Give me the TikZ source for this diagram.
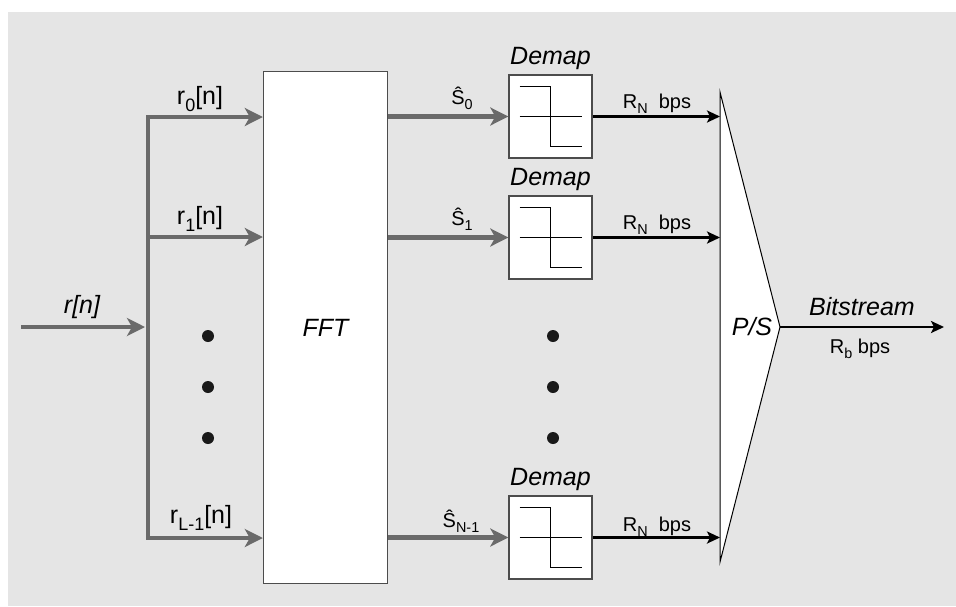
\documentclass[tikz,border=0pt]{standalone}
\usepackage{fontspec}
\setmainfont{Liberation Sans}
\usetikzlibrary{arrows.meta,positioning}
\definecolor{bggray}{HTML}{E5E5E5}
\definecolor{linegray}{HTML}{6A6A6A}
\newcommand{\lowsub}[1]{\raisebox{-0.5ex}{\scalebox{0.72}{#1}}}

\begin{document}
\begin{tikzpicture}[x=0.5pt,y=-0.5pt,
    font=\fontsize{12.5}{14}\selectfont,
    box/.style={draw=black!70,fill=white,line width=0.7pt,inner sep=0pt},
    graybus/.style={draw=linegray,line width=2.2pt},
    grayarrow/.style={graybus,-{Stealth[length=9pt,width=9pt,inset=2.5pt]}},
    blackarrow/.style={draw=black,line width=1.3pt,-{Stealth[length=6.5pt,width=6pt,inset=1.5pt]}},
    small/.style={font=\fontsize{10}{11}\selectfont},
    dot/.style={circle,fill=black!90,inner sep=0pt,minimum size=6pt}]
    \useasboundingbox (0,0) rectangle (956,606);
    \fill[bggray] (8,12) rectangle (956,606);

    \node[box,minimum width=62pt,minimum height=256pt] (fft) at (325.5,327.5) {\itshape FFT};
    \node[box,minimum size=41.5pt] (dm0) at (550.5,116.5) {};
    \node[box,minimum size=41.5pt] (dm1) at (550.5,237.5) {};
    \node[box,minimum size=41.5pt] (dm2) at (550.5,537.5) {};
    \foreach \b in {dm0,dm1,dm2}{
        \node[above,inner sep=2pt] (\b-lbl) at (\b.north) {\itshape Demap};
        \draw[line width=0.6pt] ([shift={(-31,-30)}]\b.center) -| ([shift={(0,30)}]\b.center) -- ([shift={(31,30)}]\b.center);
        \draw[line width=0.6pt] ([shift={(-31,0)}]\b.center) -- ([shift={(31,0)}]\b.center);
    }

    \coordinate (rin) at (21,327);
    \coordinate (bustop) at (148,117);
    \coordinate (busmid) at (148,237);
    \coordinate (busbot) at (148,538);
    \draw[grayarrow,shorten >=1.5pt] (rin) -- (rin -| bustop);
    \draw[grayarrow] (busbot) -- (bustop) -- (bustop -| fft.west);
    \draw[grayarrow] (bustop) -- (busbot) -- (busbot -| fft.west);
    \draw[grayarrow] (busmid) -- (busmid -| fft.west);
    \draw[grayarrow] (fft.east |- dm0) -- (dm0.west);
    \draw[grayarrow] (fft.east |- dm1) -- (dm1.west);
    \draw[grayarrow] (fft.east |- dm2) -- (dm2.west);

    \foreach \y in {336,387,438}{
        \node[dot] (dl\y) at (208,\y) {};
        \node[dot] (dr\y) at (553,\y) {};
    }

    \coordinate (psa) at (720,92);
    \coordinate (psb) at (780,327);
    \coordinate (psc) at (720,562);
    \coordinate (bsend) at (944,327);
    \draw[fill=white,line width=0.5pt] (psa) -- (psb) -- (psc) -- cycle;
    \node (ps) at (752,327) {\itshape P/S};
    \draw[blackarrow] (dm0.east) -- (dm0.east -| psa);
    \draw[blackarrow] (dm1.east) -- (dm1.east -| psa);
    \draw[blackarrow] (dm2.east) -- (dm2.east -| psa);
    \draw[blackarrow] (psb) -- (bsend);

    \node (lr) at (82,307) {\itshape r[n]};
    \node (lr0) at (200,99) {r\lowsub{0}[n]};
    \node (lr1) at (200,219) {r\lowsub{1}[n]};
    \node (lrL) at (201,518) {r\lowsub{L-1}[n]};
    \node[small] (ls0) at (462,98) {\^{S}\lowsub{0}};
    \node[small] (ls1) at (462,219) {\^{S}\lowsub{1}};
    \node[small] (ls2) at (461,521) {\^{S}\lowsub{N-1}};
    \node[small] (lrn0) at (657,104) {R\lowsub{N}~ bps};
    \node[small] (lrn1) at (657,225) {R\lowsub{N}~ bps};
    \node[small] (lrn2) at (657,527) {R\lowsub{N}~ bps};
    \node (lbs) at (862,307) {\itshape Bitstream};
    \node[small] (lrb) at (860,349) {R\lowsub{b} bps};
\end{tikzpicture}
\end{document}
